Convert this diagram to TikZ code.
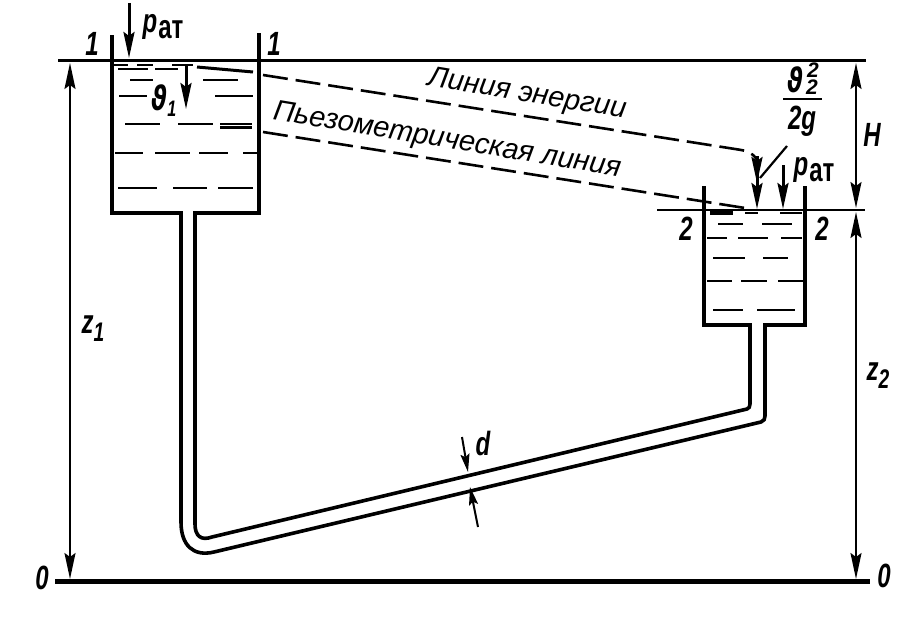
\documentclass[tikz,border=0pt]{standalone}
\usepackage{fontspec}
\setmainfont{Liberation Sans}
\newfontfamily\thetafont{DejaVu Sans}
\usetikzlibrary{arrows.meta}
\newcommand{\nrw}[1]{\scalebox{.8}[1.12]{#1}}
\begin{document}
\begin{tikzpicture}[x=1pt,y=-1pt,inner sep=0pt,outer sep=0pt,line width=3pt,
>={Stealth[length=26pt,width=11pt,inset=4pt]},
wall/.style={line width=4pt,line cap=rect},
pipe/.style={line width=3.6pt},
level/.style={line width=3pt},
datum/.style={line width=5pt},
dimline/.style={line width=2pt},
head/.style={line width=2.6pt,dash pattern=on 25pt off 8pt},
liquid/.style={line width=2.2pt},
small/.style={line width=2pt,>={Stealth[length=18pt,width=9pt,inset=3pt]}},
lbl/.style={font=\bfseries\itshape\fontsize{30}{32}\selectfont},
sub/.style={font=\bfseries\itshape\fontsize{21}{23}\selectfont},
txt/.style={font=\itshape\fontsize{29}{31}\selectfont,rotate=-9.4}]
\useasboundingbox (0,0) rectangle (903,618);
% levels
\draw[level] (58,61) coordinate (top1) -- (866,61) coordinate (top2);
\draw[level,line width=2pt] (657,210) coordinate (lev1) -- (865,210) coordinate (lev2);
\draw[datum] (55,581) coordinate (base1) -- (870,581) coordinate (base2);
% tanks
\draw[wall] (112,37) -- (112,213) -- (181,213);
\draw[wall] (259,35) -- (259,213) -- (195,213);
\draw[wall] (704,188) -- (704,325) -- (750,325);
\draw[wall] (805,188) -- (805,325) -- (765,325);
% pipe
\draw[pipe] (181,213) -- (181,522) .. controls (181,545) and (193,557) .. (214,552) -- (761,422) .. controls (764,421) and (765,419) .. (765,416) -- (765,325);
\draw[pipe] (195,213) -- (195,524) .. controls (195,536) and (201,541) .. (212,537) -- (747,409) .. controls (749,408) and (750,407) .. (750,404) -- (750,325);
% liquid
\foreach \y/\a/\b in {65/113/128,65/137/153,65/172/193,69/118/148,69/155/178,
80/130/153,80/203/238,96/119/147,96/215/253,124/125/160,124/178/213,124/220/252,
153/115/143,153/155/190,153/199/228,153/243/258,188/118/157,188/173/207,188/218/253,
224/718/743,224/762/792,238/707/727,238/738/768,238/781/802,258/713/745,258/763/788,
281/707/732,281/741/767,281/778/803,310/713/743,310/757/795,213/745/758,213/780/802}
  \draw[liquid] (\a,\y) -- (\b,\y);
\draw[line width=4pt] (710,213) -- (733,213);
\draw[line width=3pt] (197,67) -- (253,72);
\draw[line width=3pt] (220,127) -- (252,127);
% head lines
\draw[head] (263,75) -- (735,149) .. controls (748,151) and (752,152) .. (757,160);
\draw[->>] (757,156) -- (757,209);
\draw[head] (263,132) -- (745,208);
\draw[line width=2.2pt] (760,178) -- (787,146);
% arrows
\draw[->] (129,3) -- (129,58);
\draw[->] (186,65) -- (186,109);
\draw[->] (783,165) -- (783,209);
\draw[<->,dimline] (70,63) -- (70,579);
\draw[<->,dimline] (856,63) -- (856,208);
\draw[<->,dimline] (856,212) -- (856,579);
\draw[->,small] (462,437) -- (468,472);
\draw[->,small] (478,527) -- (470,487);
% labels
\node[lbl] (one1) at (92,44) {\nrw{1}};
\node[lbl] (one2) at (274,44) {\nrw{1}};
\node[lbl] (pat1) at (163,27) {\nrw{p}\kern1pt\raisebox{-6pt}{\upshape\nrw{ат}}};
\node[lbl] (pat2) at (814,170) {\nrw{p}\kern1pt\raisebox{-6pt}{\upshape\nrw{ат}}};
\node[lbl] (v1) at (164,101) {\nrw{\thetafont\itshape ϑ}\raisebox{-6pt}{\fontsize{20}{22}\selectfont\nrw{1}}};
\node[lbl] (vnum) at (795,80) {\nrw{\thetafont\itshape ϑ}};
\node[sub] (vsup) at (813,70) {2};
\node[sub] (vsub) at (812,87) {2};
\draw[line width=2.5pt] (783,99) -- (822,99);
\node[lbl] (vden) at (802,121) {\nrw{2g}};
\node[lbl] (hh) at (872,135) {\nrw{H}};
\node[lbl] (two1) at (686,229) {\nrw{2}};
\node[lbl] (two2) at (822,229) {\nrw{2}};
\node[lbl] (z1) at (93,329) {\nrw{z}\raisebox{-8pt}{\fontsize{24}{26}\selectfont\nrw{1}}};
\node[lbl] (z2) at (878,376) {\nrw{z}\raisebox{-8pt}{\fontsize{24}{26}\selectfont\nrw{2}}};
\node[lbl] (zero1) at (42,578) {\nrw{0}};
\node[lbl] (zero2) at (884,576) {\nrw{0}};
\node[lbl] (dd) at (483,443) {\nrw{d}};
\node[txt] (energy) at (527,95) {Линия энергии};
\node[txt] (piezo) at (447,141) {Пьезометрическая линия};
\end{tikzpicture}
\end{document}
